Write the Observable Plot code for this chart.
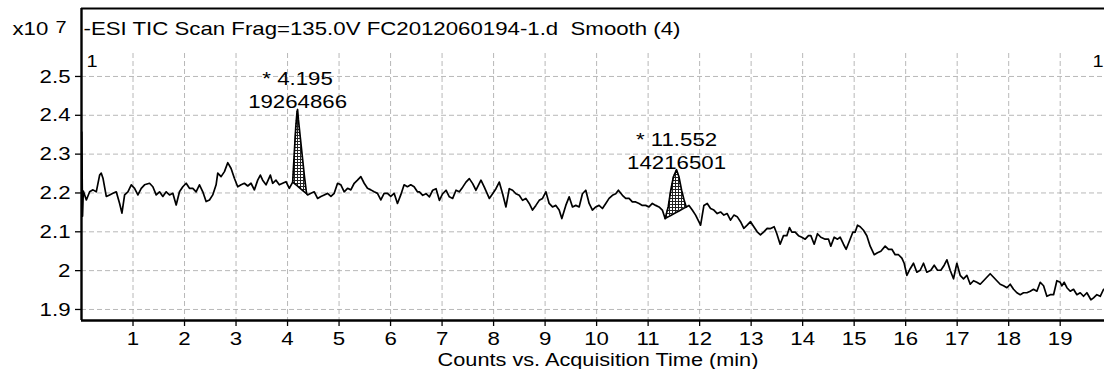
<!DOCTYPE html>
<html>
<head>
<meta charset="utf-8">
<script src="https://cdn.jsdelivr.net/npm/d3@7"></script>
<script src="https://cdn.jsdelivr.net/npm/@observablehq/plot@0.6"></script>
<style>
  body { margin: 0; background: #fff; }
  svg text { white-space: pre; }
</style>
</head>
<body>
<div id="chart"></div>
<script>
// Total ion chromatogram, negative ESI scan (counts in units of 10^7)
const scanTime = [
  0.005, 0.02, 0.035, 0.094, 0.158, 0.223, 0.287, 0.352, 0.384, 0.417, 0.481, 0.546, 0.610, 0.675, 0.740, 0.785, 0.837, 0.901, 0.966,
  1.030, 1.095, 1.160, 1.224, 1.321, 1.385, 1.450, 1.515, 1.579, 1.644, 1.709, 1.773, 1.838, 1.902, 1.967,
  2.032, 2.096, 2.161, 2.225, 2.290, 2.355, 2.419, 2.484, 2.548, 2.613, 2.645, 2.710, 2.775, 2.839, 2.904, 2.968,
  3.033, 3.098, 3.162, 3.227, 3.291, 3.356, 3.421, 3.472, 3.517, 3.582, 3.666, 3.711, 3.776, 3.840, 3.905, 3.970,
  4.034, 4.100, 4.130, 4.160, 4.185, 4.195, 4.210, 4.250, 4.290, 4.330, 4.370, 4.390, 4.454, 4.519, 4.583, 4.648, 4.712, 4.777, 4.842, 4.906, 4.971,
  5.035, 5.100, 5.165, 5.229, 5.294, 5.358, 5.423, 5.488, 5.552, 5.617, 5.681, 5.746, 5.811, 5.875, 5.940,
  6.004, 6.069, 6.134, 6.198, 6.263, 6.327, 6.392, 6.457, 6.521, 6.560, 6.625, 6.689, 6.754, 6.818, 6.883, 6.948,
  7.012, 7.077, 7.141, 7.206, 7.271, 7.335, 7.400, 7.464, 7.529, 7.594, 7.658, 7.755, 7.820, 7.917, 7.981,
  8.046, 8.110, 8.175, 8.240, 8.304, 8.369, 8.433, 8.498, 8.563, 8.627, 8.692, 8.756, 8.821, 8.886, 8.950,
  9.015, 9.079, 9.144, 9.209, 9.273, 9.325, 9.402, 9.467, 9.532, 9.596, 9.661, 9.725, 9.790, 9.855, 9.919, 9.984,
  10.048, 10.113, 10.178, 10.242, 10.307, 10.371, 10.423, 10.501, 10.565, 10.630, 10.694, 10.759, 10.824, 10.888, 10.953,
  11.017, 11.082, 11.147, 11.211, 11.276, 11.330, 11.390, 11.440, 11.490, 11.552, 11.600, 11.650, 11.700, 11.740, 11.793, 11.857, 11.922,
  12.019, 12.083, 12.148, 12.212, 12.277, 12.342, 12.406, 12.471, 12.535, 12.600, 12.665, 12.729, 12.794, 12.858, 12.923, 12.988,
  13.052, 13.117, 13.181, 13.246, 13.311, 13.369, 13.447, 13.499, 13.563, 13.628, 13.693, 13.745, 13.790, 13.855, 13.919, 13.984,
  14.049, 14.113, 14.159, 14.224, 14.288, 14.353, 14.437, 14.502, 14.547, 14.612, 14.677, 14.728, 14.793, 14.845, 14.910, 14.974,
  15.019, 15.065, 15.117, 15.181, 15.246, 15.311, 15.389, 15.453, 15.518, 15.602, 15.667, 15.732, 15.796, 15.861, 15.926, 15.971,
  16.023, 16.088, 16.152, 16.217, 16.282, 16.346, 16.411, 16.489, 16.554, 16.618, 16.683, 16.748, 16.800, 16.864, 16.929, 16.994,
  17.058, 17.123, 17.188, 17.253, 17.317, 17.382, 17.447, 17.512, 17.576, 17.641, 17.706, 17.770, 17.835, 17.900, 17.965,
  18.029, 18.094, 18.159, 18.224, 18.288, 18.353, 18.418, 18.482, 18.547, 18.612, 18.677, 18.741, 18.806, 18.871, 18.935,
  19.000, 19.033, 19.078, 19.130, 19.195, 19.259, 19.324, 19.389, 19.453, 19.518, 19.596, 19.647, 19.712, 19.777, 19.842
];
const tic = [
  2.357, 2.140, 2.205, 2.182, 2.203, 2.208, 2.203, 2.246, 2.251, 2.238, 2.191, 2.195, 2.199, 2.203, 2.173, 2.148, 2.195, 2.203, 2.221,
  2.212, 2.195, 2.212, 2.221, 2.225, 2.216, 2.195, 2.203, 2.191, 2.203, 2.195, 2.199, 2.169, 2.203, 2.216,
  2.225, 2.212, 2.212, 2.203, 2.221, 2.203, 2.178, 2.182, 2.195, 2.221, 2.251, 2.242, 2.255, 2.278, 2.263, 2.238,
  2.216, 2.221, 2.225, 2.218, 2.225, 2.208, 2.233, 2.246, 2.233, 2.221, 2.246, 2.225, 2.233, 2.221, 2.225, 2.229,
  2.212, 2.228, 2.300, 2.370, 2.410, 2.415, 2.390, 2.340, 2.290, 2.240, 2.198, 2.195, 2.199, 2.203, 2.186, 2.191, 2.195, 2.199, 2.191, 2.199, 2.225,
  2.221, 2.203, 2.212, 2.208, 2.225, 2.233, 2.242, 2.225, 2.212, 2.208, 2.203, 2.199, 2.182, 2.199, 2.199,
  2.191, 2.199, 2.173, 2.195, 2.221, 2.216, 2.221, 2.216, 2.203, 2.203, 2.194, 2.198, 2.190, 2.207, 2.211, 2.181,
  2.198, 2.207, 2.190, 2.186, 2.207, 2.203, 2.215, 2.228, 2.237, 2.224, 2.207, 2.233, 2.215, 2.186, 2.198,
  2.211, 2.228, 2.198, 2.164, 2.211, 2.207, 2.198, 2.194, 2.181, 2.186, 2.173, 2.156, 2.168, 2.181, 2.186,
  2.203, 2.173, 2.164, 2.168, 2.156, 2.134, 2.168, 2.190, 2.164, 2.168, 2.164, 2.198, 2.207, 2.173, 2.156, 2.164,
  2.168, 2.160, 2.173, 2.186, 2.194, 2.198, 2.207, 2.194, 2.186, 2.186, 2.177, 2.177, 2.173, 2.168, 2.168,
  2.164, 2.173, 2.168, 2.164, 2.156, 2.134, 2.164, 2.207, 2.241, 2.260, 2.241, 2.207, 2.181, 2.164, 2.168, 2.156, 2.143,
  2.117, 2.168, 2.173, 2.160, 2.156, 2.147, 2.151, 2.143, 2.147, 2.130, 2.143, 2.139, 2.126, 2.109, 2.117, 2.126,
  2.113, 2.100, 2.092, 2.100, 2.109, 2.108, 2.113, 2.095, 2.068, 2.090, 2.090, 2.111, 2.099, 2.099, 2.090, 2.086,
  2.081, 2.090, 2.090, 2.068, 2.095, 2.086, 2.081, 2.081, 2.063, 2.086, 2.081, 2.086, 2.068, 2.055, 2.077, 2.099,
  2.099, 2.117, 2.113, 2.104, 2.090, 2.063, 2.041, 2.046, 2.050, 2.063, 2.055, 2.055, 2.041, 2.041, 2.032, 2.019,
  1.988, 2.005, 2.019, 1.996, 2.001, 2.019, 1.996, 2.001, 2.014, 2.001, 2.001, 2.014, 2.028, 2.001, 1.979, 2.019,
  1.988, 1.979, 1.988, 1.965, 1.974, 1.970, 1.965, 1.974, 1.983, 1.992, 1.983, 1.974, 1.965, 1.961, 1.956,
  1.965, 1.952, 1.943, 1.938, 1.943, 1.943, 1.947, 1.952, 1.947, 1.970, 1.961, 1.934, 1.938, 1.938, 1.974,
  1.970, 1.961, 1.970, 1.956, 1.947, 1.952, 1.938, 1.943, 1.934, 1.943, 1.925, 1.930, 1.938, 1.934, 1.952
];

// Integrated peaks: retention time, area and integration window
const peakTime = [4.195, 11.552];
const peakArea = [19264866, 14216501];
const peakStart = [4.100, 11.330];
const peakEnd = [4.370, 11.740];

const xTicks = [1, 2, 3, 4, 5, 6, 7, 8, 9, 10, 11, 12, 13, 14, 15, 16, 17, 18, 19];
const yTicks = [1.9, 2.0, 2.1, 2.2, 2.3, 2.4, 2.5];

const title = "-ESI TIC Scan Frag=135.0V FC2012060194-1.d  Smooth (4)";
const xLabel = "Counts vs. Acquisition Time (min)";
const yScaleBase = "x10";
const yScaleExp = "7";
const rangeMarker = "1";

const xDomain = [0, 19.86];
const yDomain = [1.8716, 2.675];

const trace = scanTime.map((t, i) => ({t, v: tic[i]}));

// Shaded integration area: trace above a straight baseline joining the window ends
const shade = [];
const peaks = peakTime.map((pt, k) => {
  const i0 = scanTime.indexOf(peakStart[k]);
  const i1 = scanTime.indexOf(peakEnd[k]);
  const t0 = scanTime[i0], t1 = scanTime[i1], b0 = tic[i0], b1 = tic[i1];
  for (let i = i0; i <= i1; i++) {
    const t = scanTime[i];
    shade.push({peak: k, t, v: tic[i], base: b0 + (b1 - b0) * (t - t0) / (t1 - t0)});
  }
  return {t: pt, area: peakArea[k], apex: tic[scanTime.indexOf(pt)]};
});

const gridStyle = {stroke: "#a6a6a6", strokeOpacity: 1, strokeWidth: 0.8, strokeDasharray: "5,3"};

const svg = Plot.plot({
  width: 1104,
  height: 369,
  marginLeft: 81,
  marginRight: 0,
  marginTop: 8,
  marginBottom: 49,
  style: {fontFamily: "'Liberation Sans', Arial, sans-serif", fontSize: "19px", color: "black", background: "white", overflow: "visible"},
  x: {domain: xDomain},
  y: {domain: yDomain},
  marks: [
    Plot.gridY(yTicks, gridStyle),
    Plot.gridX(xTicks, {...gridStyle, insetTop: 45}),
    Plot.areaY(shade, {x: "t", y1: "base", y2: "v", z: "peak", fill: "url(#hatch)"}),
    Plot.line(shade, {x: "t", y: "base", z: "peak", stroke: "black", strokeWidth: 1.6}),
    Plot.line(trace, {x: "t", y: "v", stroke: "black", strokeWidth: 1.7}),
    // frame: left, top and bottom edges
    Plot.ruleX([xDomain[0]], {stroke: "black", strokeWidth: 2.4}),
    Plot.ruleY([yDomain[1]], {stroke: "black", strokeWidth: 2}),
    Plot.ruleY([yDomain[0]], {stroke: "black", strokeWidth: 2.6}),
    Plot.axisX(xTicks, {tickSize: 6, tickPadding: 5, strokeWidth: 1.3, fontSize: 19, label: null, tickFormat: d => String(d)}),
    Plot.axisY(yTicks, {tickSize: 6, tickPadding: 5, strokeWidth: 1.3, fontSize: 19, label: null, tickFormat: d => String(Math.round(d * 10) / 10)}),
    Plot.text([title], {frameAnchor: "top-left", textAnchor: "start", lineAnchor: "top", dx: 2, dy: 12.5, fontSize: 19}),
    Plot.text([yScaleBase], {frameAnchor: "top-left", textAnchor: "start", lineAnchor: "top", dx: -69, dy: 12.5, fontSize: 19}),
    Plot.text([yScaleExp], {frameAnchor: "top-left", textAnchor: "start", lineAnchor: "top", dx: -26, dy: 12, fontSize: 17}),
    Plot.text([rangeMarker], {frameAnchor: "top-left", textAnchor: "start", lineAnchor: "top", dx: 5, dy: 46, fontSize: 17}),
    Plot.text([rangeMarker], {frameAnchor: "top-right", textAnchor: "end", lineAnchor: "top", dx: -1, dy: 46, fontSize: 17}),
    Plot.text(peaks, {x: "t", y: "apex", text: d => `* ${d.t.toFixed(3)}`, lineAnchor: "bottom", dy: -24, fontSize: 19}),
    Plot.text(peaks, {x: "t", y: "apex", text: d => String(d.area), lineAnchor: "bottom", dy: -1, fontSize: 19}),
    Plot.text([xLabel], {frameAnchor: "bottom", lineAnchor: "middle", dx: 5, dy: 39.4, fontSize: 17.5})
  ]
});

// cross-hatch fill used by the integrated peak areas
const pattern = d3.select(svg).insert("defs", ":first-child")
  .append("pattern")
  .attr("id", "hatch")
  .attr("width", 3)
  .attr("height", 3)
  .attr("patternUnits", "userSpaceOnUse");
pattern.append("rect").attr("width", 3).attr("height", 3).attr("fill", "#fff");
pattern.append("path").attr("d", "M0 0.5H3M0.5 0V3").attr("stroke", "#222").attr("stroke-width", 1);

document.getElementById("chart").append(svg);

// the printout's lettering is set wide: stretch each label horizontally
svg.querySelectorAll("text").forEach(el => {
  const w = el.getComputedTextLength();
  const stretch = el.textContent === xLabel ? 1.24 : 1.17;
  if (w > 0) {
    el.setAttribute("textLength", (w * stretch).toFixed(1));
    el.setAttribute("lengthAdjust", "spacingAndGlyphs");
  }
});
</script>
</body>
</html>
